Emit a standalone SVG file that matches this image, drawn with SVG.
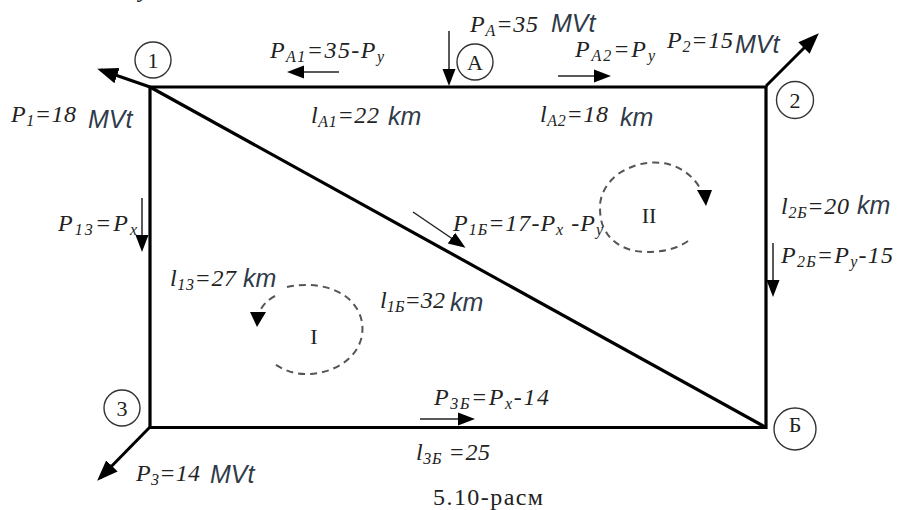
<svg xmlns="http://www.w3.org/2000/svg" width="898" height="510" viewBox="0 0 898 510">
<style>
.bg{fill:#fff}
.edge{fill:none;stroke:#000;stroke-width:3.200}
.thin{fill:none;stroke:#222;stroke-width:1.500}
.thick{fill:none;stroke:#000;stroke-width:3}
.loop{fill:none;stroke:#555;stroke-width:2;stroke-dasharray:7 5}
.head{fill:#000}
.ring{fill:#fff;stroke:#333;stroke-width:1.400}
text{fill:#222}
.n{font-family:"Liberation Serif",serif;font-size:22px;text-anchor:middle}
.f{font-family:"Liberation Serif",serif;font-style:italic;font-size:24px}
.s{font-size:16px}
.u{font-family:"Liberation Sans",sans-serif;font-style:italic;font-size:25px;fill:#2f3a4a}
.c{font-family:"Liberation Serif",serif;font-size:24px}
</style>
<defs>
<marker id="a" markerUnits="userSpaceOnUse" markerWidth="18" markerHeight="16" viewBox="0 0 18 16" refX="14" refY="8" orient="auto"><path class="head" d="M0 1.500L17 8L0 14.500z"/></marker>
<marker id="b" markerUnits="userSpaceOnUse" markerWidth="22" markerHeight="18" viewBox="0 0 22 18" refX="17" refY="9" orient="auto"><path class="head" d="M0 1L21 9L0 17z"/></marker>
</defs>
<rect class="bg" width="898" height="510"/>
<g id="connectors">
<path class="edge" d="M150 87H766V427.500H150Z"/>
<path class="edge" d="M150 87L766 427.500"/>
<line class="thick" x1="150" y1="87" x2="101" y2="70" marker-end="url(#b)"/>
<line class="thick" x1="766" y1="86" x2="816" y2="36" marker-end="url(#b)"/>
<line class="thick" x1="150" y1="427" x2="100" y2="478" marker-end="url(#b)"/>
<line class="thin" x1="449" y1="31" x2="449" y2="83" marker-end="url(#a)"/>
<line class="thin" x1="339" y1="72" x2="290" y2="72" marker-end="url(#a)"/>
<line class="thin" x1="558" y1="76" x2="608" y2="76" marker-end="url(#a)"/>
<line class="thin" x1="142" y1="198" x2="142" y2="249" marker-end="url(#a)"/>
<line class="thin" x1="413" y1="212" x2="463" y2="246" marker-end="url(#a)"/>
<line class="thin" x1="773" y1="243" x2="773" y2="294" marker-end="url(#a)"/>
<line class="thin" x1="420" y1="419" x2="472" y2="419" marker-end="url(#a)"/>
<path class="loop" d="M688 241C675 250 660 252 647 252C628 252 612 244 605 230C600 222 600 212 600 205C601 190 612 176 625 170C640 162 655 161 668 164C683 168 695 178 701 190"/>
<polygon class="head" points="697,190 712,190 706,206"/>
<path class="loop" d="M287 287C310 282 335 286 350 300C360 310 364 322 362 335C358 360 330 375 305 374C292 374 282 369 273 363"/>
<path class="loop" d="M275 296Q264 302 260 311"/>
<polygon class="head" points="250,312 266,312 257,327"/>
</g>
<g id="node-1"><circle class="ring" cx="153" cy="60" r="18"/><text class="n" x="153" y="68">1</text></g>
<g id="node-A"><circle class="ring" cx="475" cy="62" r="18"/><text class="n" x="475" y="70">А</text></g>
<g id="node-2"><circle class="ring" cx="795" cy="100" r="18.500"/><text class="n" x="795" y="108">2</text></g>
<g id="node-3"><circle class="ring" cx="122" cy="408" r="18"/><text class="n" x="122" y="416">3</text></g>
<g id="node-B"><circle class="ring" cx="795" cy="429" r="21"/><text class="n" x="795" y="432">Б</text></g>
<g id="loop-I"><text class="n" x="314" y="344">I</text></g>
<g id="loop-II"><text class="n" x="649" y="223">II</text></g>
<g id="labels">
<text x="139" y="-3" font-family="Liberation Serif" font-size="24" font-style="italic">y</text>
<text class="f" x="270" y="58" textLength="114">P<tspan class="s" dy="4">A1</tspan><tspan dy="-4">=35-P</tspan><tspan class="s" dy="4">y</tspan></text>
<text class="f" x="11" y="122" textLength="65">P<tspan class="s" dy="4">1</tspan><tspan dy="-4">=18</tspan></text>
<text class="u" x="88" y="128">MVt</text>
<text class="f" x="311" y="123" textLength="68">l<tspan class="s" dy="4">A1</tspan><tspan dy="-4">=22</tspan></text>
<text class="u" x="388" y="125">km</text>
<text class="f" x="470" y="32" textLength="68">P<tspan class="s" dy="4">A</tspan><tspan dy="-4">=35</tspan></text>
<text class="u" x="551" y="32">MVt</text>
<text class="f" x="575" y="57" textLength="80">P<tspan class="s" dy="4">A2</tspan><tspan dy="-4">=P</tspan><tspan class="s" dy="4">y</tspan></text>
<text class="f" x="667" y="48" textLength="66">P<tspan class="s" dy="4">2</tspan><tspan dy="-4">=15</tspan></text>
<text class="u" x="735" y="53">MVt</text>
<text class="f" x="540" y="122" textLength="68">l<tspan class="s" dy="4">A2</tspan><tspan dy="-4">=18</tspan></text>
<text class="u" x="620" y="126">km</text>
<text class="f" x="453" y="231" textLength="150">P<tspan class="s" dy="4">1Б</tspan><tspan dy="-4">=17-P</tspan><tspan class="s" dy="4">x</tspan><tspan dy="-4"> -P</tspan><tspan class="s" dy="4">y</tspan></text>
<text class="f" x="781" y="214" textLength="68">l<tspan class="s" dy="4">2Б</tspan><tspan dy="-4">=20</tspan></text>
<text class="u" x="857" y="214">km</text>
<text class="f" x="781" y="263" textLength="112">P<tspan class="s" dy="4">2Б</tspan><tspan dy="-4">=P</tspan><tspan class="s" dy="4">y</tspan><tspan dy="-4">-15</tspan></text>
<text class="f" x="58" y="231" textLength="79">P<tspan class="s" dy="4">13</tspan><tspan dy="-4">=P</tspan><tspan class="s" dy="4">x</tspan></text>
<text class="f" x="170" y="286" textLength="66">l<tspan class="s" dy="4">13</tspan><tspan dy="-4">=27</tspan></text>
<text class="u" x="243" y="287">km</text>
<text class="f" x="380" y="308" textLength="65">l<tspan class="s" dy="4">1Б</tspan><tspan dy="-4">=32</tspan></text>
<text class="u" x="450" y="311">km</text>
<text class="f" x="434" y="405" textLength="115">P<tspan class="s" dy="4">3Б</tspan><tspan dy="-4">=P</tspan><tspan class="s" dy="4">x</tspan><tspan dy="-4">-14</tspan></text>
<text class="f" x="416" y="460" textLength="74">l<tspan class="s" dy="4">3Б</tspan><tspan dy="-4"> =25</tspan></text>
<text class="f" x="136" y="481" textLength="64">P<tspan class="s" dy="4">3</tspan><tspan dy="-4">=14</tspan></text>
<text class="u" x="210" y="483">MVt</text>
<text class="c" x="433" y="505" textLength="110">5.10-расм</text>
</g>
</svg>
